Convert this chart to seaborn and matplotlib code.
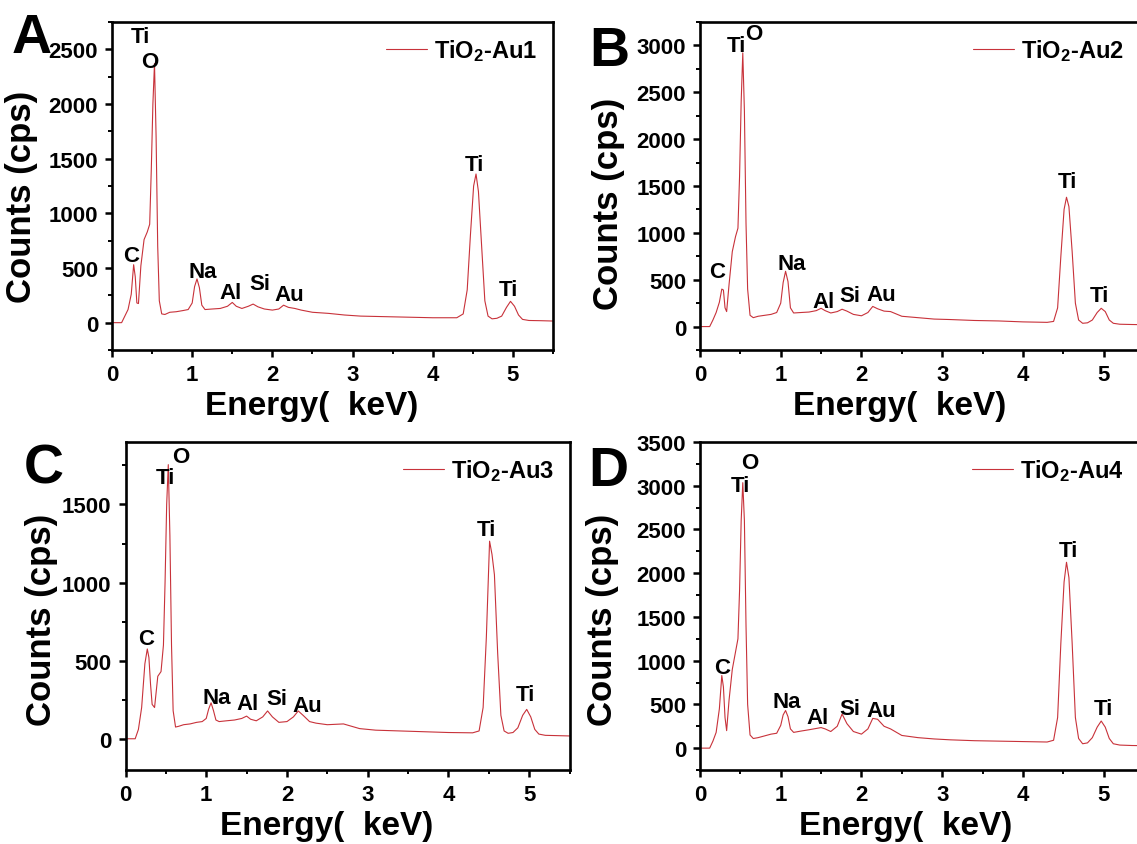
import matplotlib
matplotlib.use("Agg")
import matplotlib.pyplot as plt
from matplotlib.ticker import MultipleLocator
import seaborn as sns

sns.set_theme(style="ticks")
plt.rcParams['font.family'] = ['Liberation Sans', 'DejaVu Sans']
plt.rcParams['font.weight'] = 'bold'
plt.rcParams['text.color'] = 'black'
plt.rcParams['axes.labelcolor'] = 'black'
plt.rcParams['xtick.color'] = 'black'
plt.rcParams['ytick.color'] = 'black'
plt.rcParams['mathtext.fontset'] = 'custom'
plt.rcParams['mathtext.rm'] = 'Liberation Sans:bold'
plt.rcParams['mathtext.bf'] = 'Liberation Sans:bold'
plt.rcParams['mathtext.default'] = 'rm'

# energy grid (keV), shared by all four spectra
energy = [0, 0.12, 0.16, 0.20, 0.24, 0.27, 0.29, 0.31, 0.33, 0.36,
          0.40, 0.44, 0.47, 0.49, 0.51, 0.53, 0.55, 0.57, 0.59, 0.62,
          0.66, 0.72, 0.80, 0.88, 0.95, 1.00, 1.03, 1.06, 1.09, 1.12,
          1.16, 1.25, 1.35, 1.44, 1.50, 1.55, 1.62, 1.70, 1.76, 1.82,
          1.90, 2.00, 2.08, 2.14, 2.20, 2.28, 2.36, 2.50, 2.70, 2.90,
          3.10, 3.40, 3.70, 4.00, 4.30, 4.38, 4.43, 4.47, 4.51, 4.54,
          4.57, 4.61, 4.65, 4.69, 4.74, 4.80, 4.86, 4.92, 4.97, 5.02,
          5.07, 5.12, 5.20, 5.35, 5.50]

counts_au1 = [0, 0, 60, 120, 260, 530, 420, 180, 175, 520,
              760, 830, 900, 1400, 2000, 2370, 1700, 700, 200, 80,
              75, 95, 100, 110, 120, 180, 330, 400, 320, 160,
              120, 125, 130, 150, 185, 150, 130, 150, 170, 145,
              125, 115, 125, 160, 140, 130, 115, 95, 85, 70,
              60, 55, 50, 45, 45, 80, 300, 800, 1250, 1360,
              1200, 700, 200, 60, 35, 40, 60, 140, 195, 150,
              70, 30, 20, 18, 15]

counts_au2 = [0, 0, 70, 150, 260, 400, 390, 200, 160, 450,
              800, 960, 1050, 1600, 2400, 2920, 2300, 1100, 400, 120,
              95, 110, 120, 130, 150, 250, 470, 590, 480, 200,
              145, 150, 155, 170, 195, 170, 145, 160, 185, 165,
              130, 115, 150, 215, 190, 165, 160, 110, 95, 80,
              75, 65, 60, 50, 45, 55, 200, 750, 1250, 1380,
              1280, 800, 250, 70, 35, 40, 70, 150, 195, 160,
              70, 35, 25, 22, 20]

counts_au3 = [0, 0, 60, 200, 480, 575, 520, 350, 220, 200,
              400, 430, 600, 1000, 1500, 1755, 1300, 600, 180, 75,
              80, 90, 95, 105, 110, 130, 190, 230, 180, 120,
              110, 115, 120, 130, 145, 125, 115, 140, 178, 140,
              105, 110, 140, 178, 150, 110, 100, 90, 95, 65,
              55, 50, 45, 40, 38, 50, 200, 650, 1265, 1180,
              1050, 550, 150, 50, 35, 40, 70, 150, 188, 140,
              60, 30, 22, 20, 18]

counts_au4 = [0, 0, 80, 180, 450, 830, 700, 350, 200, 550,
              900, 1100, 1250, 1800, 2600, 3035, 2600, 1400, 500, 150,
              110, 120, 140, 160, 170, 260, 380, 430, 360, 220,
              180, 195, 210, 225, 235, 220, 190, 250, 390, 280,
              190, 160, 220, 340, 330, 250, 220, 145, 120, 105,
              95, 85, 80, 75, 70, 90, 350, 1200, 1900, 2125,
              1950, 1200, 350, 110, 50, 60, 120, 240, 310, 240,
              110, 50, 35, 30, 28]

sample_names = ["TiO$_2$-Au1", "TiO$_2$-Au2", "TiO$_2$-Au3", "TiO$_2$-Au4"]
panel_letters = ["A", "B", "C", "D"]

# peak labels and where they sit (keV, cps) for each panel
peak_names = ["C", "Ti", "O", "Na", "Al", "Si", "Au", "Ti", "Ti"]
peak_pos_au1 = [(0.24, 615), (0.36, 2620), (0.475, 2390), (1.13, 470), (1.48, 280),
                (1.84, 360), (2.21, 255), (4.52, 1445), (4.94, 307)]
peak_pos_au2 = [(0.21, 590), (0.446, 3000), (0.667, 3125), (1.14, 670), (1.53, 270),
                (1.86, 330), (2.24, 340), (4.55, 1545), (4.95, 330)]
peak_pos_au3 = [(0.26, 640), (0.50, 1673), (0.69, 1808), (1.13, 265), (1.51, 225),
                (1.87, 258), (2.25, 210), (4.47, 1340), (4.96, 281)]
peak_pos_au4 = [(0.28, 925), (0.50, 3005), (0.62, 3265), (1.08, 530), (1.46, 345),
                (1.85, 455), (2.25, 430), (4.56, 2260), (5.00, 455)]

y_limits = [(-250, 2750), (-250, 3250), (-200, 1900), (-250, 3500)]

spectra = [counts_au1, counts_au2, counts_au3, counts_au4]
peak_positions = [peak_pos_au1, peak_pos_au2, peak_pos_au3, peak_pos_au4]

W, H = 1137, 845
fig = plt.figure(figsize=(W / 100, H / 100), dpi=100)

# axes boxes in pixels: left, top, width, height
boxes = [(112, 23, 441, 328), (700, 23, 444, 328),
         (125.5, 443, 444, 328), (700, 443, 444, 328)]
ylabel_x = [-74, -75, -67, -81]
ylabel_y = [0.47, 0.45, 0.46, 0.46]
xlabel_c = [0.452, 0.45, 0.452, 0.464]
letter_xy = [(12, 53), (589, 66), (24, 484), (588, 486)]

line_color = "#c8323a"

for i in range(4):
    l, t, w, h = boxes[i]
    ax = fig.add_axes([l / W, 1 - (t + h) / H, w / W, h / H])
    sns.lineplot(x=energy, y=spectra[i], ax=ax, color=line_color, lw=0.8,
                 label=sample_names[i], sort=False)
    ax.set_xlim(0, 5.5)
    ax.set_ylim(*y_limits[i])
    ax.xaxis.set_major_locator(MultipleLocator(1))
    ax.xaxis.set_minor_locator(MultipleLocator(0.5))
    ax.yaxis.set_major_locator(MultipleLocator(500))
    ax.yaxis.set_minor_locator(MultipleLocator(250))
    ax.tick_params(which='major', direction='out', length=5, width=1.8,
                   labelsize=16, pad=5, colors='black')
    ax.tick_params(which='minor', direction='out', length=3, width=1.4,
                   colors='black')
    for lab in ax.get_xticklabels() + ax.get_yticklabels():
        lab.set_fontweight('bold')
    for sp in ax.spines.values():
        sp.set_linewidth(1.9)
        sp.set_color('black')
    ax.set_xlabel("Energy(  keV)", fontsize=24, fontweight='bold')
    ax.set_ylabel("Counts (cps)", fontsize=25, fontweight='bold')
    ax.yaxis.set_label_coords(ylabel_x[i] / w, ylabel_y[i])
    ax.xaxis.set_label_coords(xlabel_c[i], -40 / h)
    ax.xaxis.label.set_va('top')

    for name, (px, py) in zip(peak_names, peak_positions[i]):
        ax.text(px, py, name, ha='center', va='center', fontsize=16,
                fontweight='bold', color='black')

    leg = ax.legend(loc='upper right', frameon=False, fontsize=17,
                    handlelength=1.75, handletextpad=0.3, borderaxespad=0.25,
                    bbox_to_anchor=(1.0 if i % 2 == 0 else 0.99, 1.0))
    for txt in leg.get_texts():
        txt.set_fontweight('bold')
        txt.set_color('black')

    lx, ly = letter_xy[i]
    fig.text(lx / W, 1 - ly / H, panel_letters[i], fontsize=40,
             fontweight='bold', ha='left', va='baseline', color='black')

fig.savefig("out.png", dpi=100)
